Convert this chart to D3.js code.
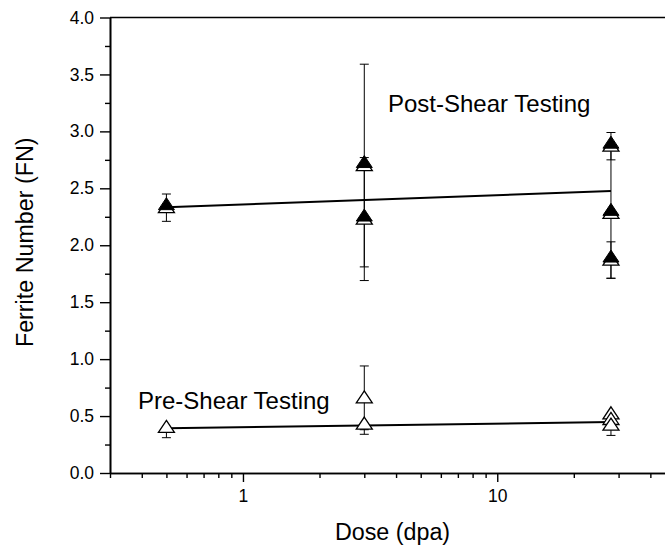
<!DOCTYPE html>
<html>
<head>
<meta charset="utf-8">
<script src="https://cdn.jsdelivr.net/npm/d3@7"></script>
<style>
  html, body { margin: 0; padding: 0; background: #fff; }
  svg { display: block; }
  text { font-family: "Liberation Sans", Arial, sans-serif; fill: #000; }
</style>
</head>
<body>
<svg id="chart" width="665" height="548"></svg>
<script>
// ---- data ----
const preDose      = [0.5, 3, 3, 28, 28, 28];
const preFN        = [0.40, 0.66, 0.43, 0.52, 0.47, 0.42];
const preErrPlus   = [0, 0.28, 0, 0, 0, 0];
const preErrMinus  = [0.09, 0.28, 0.09, 0, 0, 0.09];

const postDose     = [0.5, 3, 3, 28, 28, 28];
const postFN       = [2.33, 2.70, 2.23, 2.87, 2.28, 1.87];
const postErr      = [0.12, 0.89, 0.54, 0.12, 0.57, 0.16];

const fitDose      = [0.5, 28];
const preFit       = [0.392, 0.448];
const postFit      = [2.333, 2.476];

const xMajorTicks  = [1, 10];
const xMinorTicks  = [0.3, 0.4, 0.5, 0.6, 0.7, 0.8, 0.9, 2, 3, 4, 5, 6, 7, 8, 9, 20, 30, 40, 50];
const yMajorTicks  = [0, 0.5, 1, 1.5, 2, 2.5, 3, 3.5, 4];
const yMinorTicks  = [0.25, 0.75, 1.25, 1.75, 2.25, 2.75, 3.25, 3.75];

const xTitle = "Dose (dpa)";
const yTitle = "Ferrite Number (FN)";
const postLabel = "Post-Shear Testing";
const preLabel  = "Pre-Shear Testing";

// ---- layout ----
const L = 110, R = 675, T = 17.5, B = 473;
const svg = d3.select("#chart");

const x = d3.scaleLog().domain([0.3, 50]).range([L, R]);
const y = d3.scaleLinear().domain([0, 4]).range([B, T]);

// axes
const axW = 1.6;
function styleAxis(g) {
  g.selectAll("path").attr("stroke", "#000").attr("stroke-width", axW);
  g.selectAll("line").attr("stroke", "#000").attr("stroke-width", 1.4);
  g.selectAll("text").attr("font-size", 17.5).attr("fill", "#000")
    .attr("font-family", '"Liberation Sans", Arial, sans-serif');
}

// x minor
svg.append("g").attr("transform", `translate(0,${B})`)
  .call(d3.axisBottom(x).tickValues(xMinorTicks).tickSizeInner(5).tickSizeOuter(0).tickFormat(""))
  .call(styleAxis);
// x major
svg.append("g").attr("transform", `translate(0,${B})`)
  .call(d3.axisBottom(x).tickValues(xMajorTicks).tickSizeInner(9).tickSizeOuter(0)
        .tickPadding(8).tickFormat(d3.format("d")))
  .call(styleAxis);

// y minor
svg.append("g").attr("transform", `translate(${L},0)`)
  .call(d3.axisLeft(y).tickValues(yMinorTicks).tickSizeInner(5).tickSizeOuter(0).tickFormat(""))
  .call(styleAxis);
// y major
svg.append("g").attr("transform", `translate(${L},0)`)
  .call(d3.axisLeft(y).tickValues(yMajorTicks).tickSizeInner(10).tickSizeOuter(0)
        .tickPadding(6).tickFormat(d3.format(".1f")))
  .call(styleAxis);

// top frame line
svg.append("line").attr("x1", L).attr("x2", R).attr("y1", y(4)).attr("y2", y(4))
  .attr("stroke", "#000").attr("stroke-width", axW);
// right frame line (outside view)
svg.append("line").attr("x1", R).attr("x2", R).attr("y1", T).attr("y2", B)
  .attr("stroke", "#000").attr("stroke-width", axW);

// axis titles
svg.append("text").attr("x", (L + R) / 2).attr("y", 540)
  .attr("text-anchor", "middle").attr("font-size", 23.3).text(xTitle);
svg.append("text")
  .attr("transform", `translate(33,${(T + B) / 2 - 3}) rotate(-90)`)
  .attr("text-anchor", "middle").attr("font-size", 23.3).text(yTitle);

// fit lines
const line = d3.line().x(d => x(d[0])).y(d => y(d[1]));
svg.append("path").datum(fitDose.map((d, i) => [d, postFit[i]]))
  .attr("d", line).attr("fill", "none").attr("stroke", "#000").attr("stroke-width", 2);
svg.append("path").datum(fitDose.map((d, i) => [d, preFit[i]]))
  .attr("d", line).attr("fill", "none").attr("stroke", "#000").attr("stroke-width", 2);

// error bars
const capW = 9;
function drawErr(dose, val, plus, minus) {
  const g = svg.append("g").attr("stroke", "#000").attr("stroke-width", 1);
  dose.forEach((d, i) => {
    const cx = x(d);
    const top = val[i] + plus[i], bot = val[i] - minus[i];
    if (plus[i] > 0 || minus[i] > 0) {
      g.append("line").attr("x1", cx).attr("x2", cx).attr("y1", y(top)).attr("y2", y(bot));
    }
    if (plus[i] > 0) g.append("line").attr("x1", cx - capW / 2).attr("x2", cx + capW / 2)
      .attr("y1", y(top)).attr("y2", y(top));
    if (minus[i] > 0) g.append("line").attr("x1", cx - capW / 2).attr("x2", cx + capW / 2)
      .attr("y1", y(bot)).attr("y2", y(bot));
  });
}
drawErr(postDose, postFN, postErr, postErr);
drawErr(preDose, preFN, preErrPlus, preErrMinus);

// triangle markers
const tri = "M0,-7L8,5L-8,5Z";
// pre-shear: open triangles
svg.append("g").selectAll("path").data(preDose).join("path")
  .attr("d", tri)
  .attr("transform", (d, i) => `translate(${x(d)},${y(preFN[i])})`)
  .attr("fill", "#fff").attr("stroke", "#000").attr("stroke-width", 1.3);
// post-shear: open triangle with filled triangle just above
const post = svg.append("g");
post.selectAll("path.open").data(postDose).join("path").attr("class", "open")
  .attr("d", tri)
  .attr("transform", (d, i) => `translate(${x(d)},${y(postFN[i])})`)
  .attr("fill", "#fff").attr("stroke", "#000").attr("stroke-width", 1.3);
post.selectAll("path.fill").data(postDose).join("path").attr("class", "fill")
  .attr("d", tri)
  .attr("transform", (d, i) => `translate(${x(d)},${y(postFN[i]) - 3})`)
  .attr("fill", "#000").attr("stroke", "#000").attr("stroke-width", 1);

// series labels
svg.append("text").attr("x", 388).attr("y", 112).attr("font-size", 24).text(postLabel);
svg.append("text").attr("x", 138).attr("y", 409).attr("font-size", 24).text(preLabel);
</script>
</body>
</html>
